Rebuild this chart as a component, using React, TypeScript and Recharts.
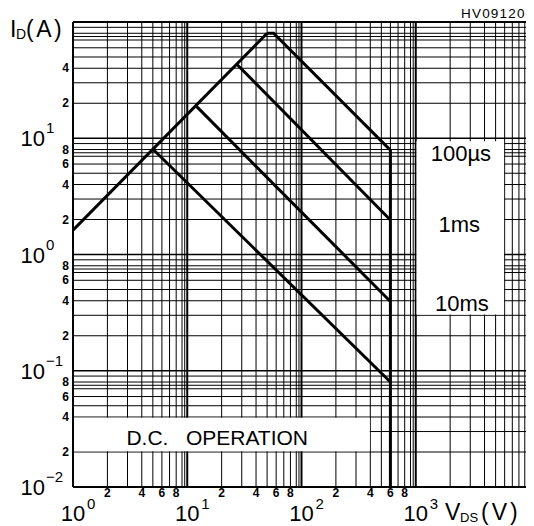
import React from 'react';
import {
  ComposedChart,
  Line,
  XAxis,
  YAxis,
  ReferenceLine,
  ReferenceArea,
  ReferenceDot,
} from 'recharts';

// V_DS (V) / I_D (A)
const rdsOnV = [1, 50];
const rdsOnI = [1.62, 80];
const t100usV = [50, 57, 600, 600];
const t100usI = [80, 80, 7.9, 0.01];
const t1msV = [27.4, 600];
const t1msI = [42.9, 1.98];
const t10msV = [12.1, 600];
const t10msI = [18.7, 0.394];
const dcV = [5.04, 600];
const dcI = [8, 0.08];

const xTicks = [1, 2, 4, 6, 8, 10, 20, 40, 60, 80, 100, 200, 400, 600, 800, 1000];
const yTicks = [0.01, 0.02, 0.04, 0.06, 0.08, 0.1, 0.2, 0.4, 0.6, 0.8, 1, 2, 4, 6, 8, 10, 20, 40];

// log paper
const decadesX = [1, 10, 100, 1000, 10000];
const decadesY = [0.01, 0.1, 1, 10, 100];
const subX = [2, 3, 4, 5, 6, 7, 8, 9, 9.5];
const subY = [2, 3, 4, 5, 6, 7, 7.5, 8, 9];

const FONT = "'Liberation Sans', Arial, sans-serif";

const toPts = (vs: number[], is: number[]) => vs.map((v, k) => ({ v, i: is[k] }));

const minorX = decadesX.slice(0, -1).flatMap((d) => subX.map((m) => d * m));
const minorY = decadesY.slice(0, -1).flatMap((d) => subY.map((m) => d * m));

const isPow10 = (v: number) => Math.abs(Math.log10(v) - Math.round(Math.log10(v))) < 1e-9;
const expText = (v: number) => {
  const e = Math.round(Math.log10(v));
  return e < 0 ? '\u2212' + Math.abs(e) : String(e);
};
const mantissa = (v: number) => String(Math.round(v / Math.pow(10, Math.floor(Math.log10(v) + 1e-9))));

const renderXTick = (props: any) => {
  const { x, payload } = props;
  const v = payload.value;
  if (isPow10(v)) {
    return (
      <g>
        <text x={x} y={513} textAnchor="middle" fontSize={22} fontFamily={FONT} fill="#000">
          10
        </text>
        <text x={x + 14} y={501} fontSize={15} fontFamily={FONT} fill="#000">
          {expText(v)}
        </text>
      </g>
    );
  }
  return (
    <text x={x} y={489} textAnchor="middle" fontSize={12} fontWeight="bold" fontFamily={FONT} fill="#000">
      {mantissa(v)}
    </text>
  );
};

const renderYTick = (props: any) => {
  const { y, payload } = props;
  const v = payload.value;
  if (isPow10(v)) {
    return (
      <g>
        <text x={12.5} y={y + 8} fontSize={22} fontFamily={FONT} fill="#000">
          10
        </text>
        <text x={38} y={y - 5} fontSize={15} fontFamily={FONT} fill="#000">
          {expText(v)}
        </text>
      </g>
    );
  }
  return (
    <text x={61} y={y + 4} textAnchor="end" fontSize={12} fontWeight="bold" fontFamily={FONT} fill="#000">
      {mantissa(v)}
    </text>
  );
};

const boxLabel = (text: string, size: number) => (props: any) => {
  const vb = props.viewBox || {};
  const cx = (vb.x ?? 0) + (vb.width ?? 0) / 2;
  const cy = (vb.y ?? 0) + (vb.height ?? 0) / 2;
  return (
    <text
      x={cx}
      y={cy}
      textAnchor="middle"
      dominantBaseline="central"
      fontSize={size}
      fontFamily={FONT}
      fill="#000"
      style={{ whiteSpace: 'pre' }}
    >
      {text}
    </text>
  );
};

const series = [
  { key: 'rdson', data: toPts(rdsOnV, rdsOnI) },
  { key: '100us', data: toPts(t100usV, t100usI) },
  { key: '1ms', data: toPts(t1msV, t1msI) },
  { key: '10ms', data: toPts(t10msV, t10msI) },
  { key: 'dc', data: toPts(dcV, dcI) },
];

export default function App() {
  return (
    <div style={{ position: 'relative', width: 526, height: 518, fontFamily: FONT }}>
      <ComposedChart width={526} height={518} margin={{ top: 14, right: 4, bottom: 0, left: 0 }}>
        <XAxis
          dataKey="v"
          type="number"
          scale="log"
          domain={[1, 10000]}
          allowDataOverflow
          ticks={xTicks}
          interval={0}
          tick={renderXTick}
          tickLine={false}
          axisLine={false}
          height={39}
        />
        <YAxis
          type="number"
          scale="log"
          domain={[0.01, 100]}
          allowDataOverflow
          ticks={yTicks}
          interval={0}
          tick={renderYTick}
          tickLine={false}
          axisLine={false}
          width={65}
        />

        {minorX.map((v) => (
          <ReferenceLine key={'mx' + v} x={v} stroke="#000" strokeWidth={1} zIndex={-300} />
        ))}
        {minorY.map((v) => (
          <ReferenceLine key={'my' + v} y={v} stroke="#000" strokeWidth={1} zIndex={-300} />
        ))}
        {decadesX.slice(1, -1).map((v) => (
          <ReferenceLine key={'dx' + v} x={v} stroke="#000" strokeWidth={2} zIndex={-290} />
        ))}
        {decadesY.slice(1, -1).map((v) => (
          <ReferenceLine key={'dy' + v} y={v} stroke="#000" strokeWidth={1.3} zIndex={-290} />
        ))}

        <ReferenceArea
          x1={1}
          x2={396}
          y1={0.0203}
          y2={0.0395}
          fill="#fff"
          fillOpacity={1}
          stroke="none"
          zIndex={-200}
        />
        <ReferenceArea
          x1={1015}
          x2={5930}
          y1={0.305}
          y2={9.4}
          fill="#fff"
          fillOpacity={1}
          stroke="none"
          zIndex={-200}
        />

        <ReferenceLine x={1} stroke="#000" strokeWidth={2} zIndex={-100} />
        <ReferenceLine x={10000} stroke="#000" strokeWidth={2} zIndex={-100} />
        <ReferenceLine y={0.01} stroke="#000" strokeWidth={2} zIndex={-100} />
        <ReferenceLine y={100} stroke="#000" strokeWidth={2} zIndex={-100} />

        {series.map((s) => (
          <Line
            key={s.key}
            data={s.data}
            dataKey="i"
            type="linear"
            stroke="#000"
            strokeWidth={3}
            strokeLinejoin="miter"
            dot={false}
            activeDot={false}
            isAnimationActive={false}
            zIndex={400}
          />
        ))}

        <ReferenceDot x={2483} y={7.39} r={0} fill="none" stroke="none" label={boxLabel('100\u00b5s', 22)} />
        <ReferenceDot x={2405} y={1.82} r={0} fill="none" stroke="none" label={boxLabel('1ms', 22)} />
        <ReferenceDot x={2531} y={0.38} r={0} fill="none" stroke="none" label={boxLabel('10ms', 22)} />
        <ReferenceDot
          x={18.3}
          y={0.0269}
          r={0}
          fill="none"
          stroke="none"
          label={boxLabel('D.C.\u00a0\u00a0\u00a0OPERATION', 21)}
        />
      </ComposedChart>

      <svg
        width={534}
        height={526}
        style={{ position: 'absolute', left: -8, top: -8, overflow: 'visible', pointerEvents: 'none' }}
      >
        <text x={10} y={37} fontSize={23} fontFamily={FONT} fill="#000">
          I
        </text>
        <text x={16} y={39} fontSize={14} fontFamily={FONT} fill="#000">
          D
        </text>
        <text x={26} y={37} fontSize={23} letterSpacing={2.5} fontFamily={FONT} fill="#000">
          (A)
        </text>
        <text x={461} y={18} fontSize={13.5} letterSpacing={1.2} fontFamily={FONT} fill="#000">
          HV09120
        </text>
        <text x={445} y={520} fontSize={23} fontFamily={FONT} fill="#000">
          V
        </text>
        <text x={460} y={522} fontSize={13} fontFamily={FONT} fill="#000">
          DS
        </text>
        <text x={481} y={520} fontSize={23} letterSpacing={3} fontFamily={FONT} fill="#000">
          (V)
        </text>
      </svg>
    </div>
  );
}
